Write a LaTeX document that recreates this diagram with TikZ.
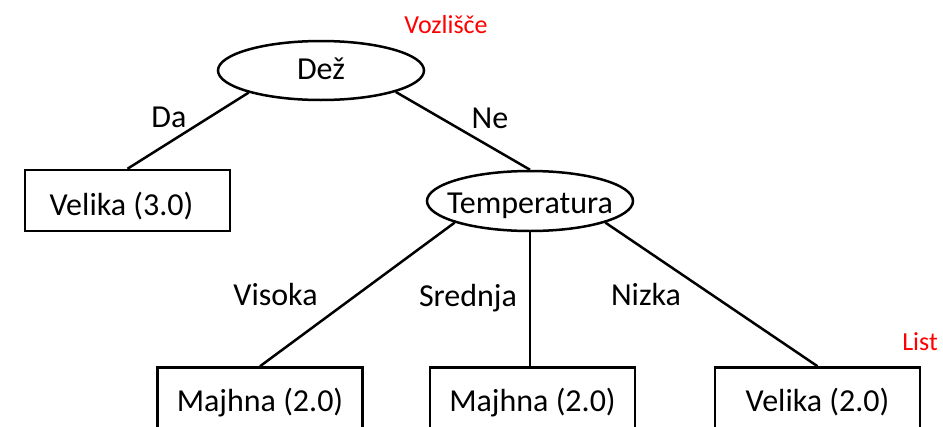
\documentclass[tikz,border=0pt]{standalone}
\usepackage{fontspec}
\setmainfont{Carlito}
\usetikzlibrary{shapes.geometric}
\begin{document}
\begin{tikzpicture}[x=1pt,y=-1pt,
  every node/.style={font=\fontsize{32}{38}\selectfont},
  decision/.style={ellipse, draw, line width=2.5pt, inner sep=0pt,
    minimum width=206pt, minimum height=60pt},
  leafbox/.style={rectangle, draw, line width=2.5pt, inner sep=0pt,
    minimum width=205pt, minimum height=62pt, text height=27pt, text depth=2pt},
  edge/.style={line width=2.5pt},
  branch/.style={anchor=base},
  note/.style={anchor=base, text=red, font=\fontsize{26}{31}\selectfont}]
  \useasboundingbox (0,0) rectangle (943,426);

  % decision nodes
  \node[decision, minimum height=59pt, text height=22pt, text depth=5pt] (dez) at (321,70.5) {\makebox[0pt]{Dež}};
  \node[decision, text height=26pt, text depth=2pt] (temp) at (530,201) {\makebox[0pt]{Temperatura}};

  % leaves
  \node[leafbox, minimum height=61pt, text height=31pt] (v3) at (127.5,200.5) {\makebox[0pt]{\kern-12pt Velika (3.0)}};
  \node[leafbox] (m1) at (260,398.5) {Majhna (2.0)};
  \node[leafbox] (m2) at (532.5,398.5) {Majhna (2.0)};
  \node[leafbox] (v2) at (817.5,398.5) {Velika (2.0)};

  % branches
  \draw[edge] (dez.197) -- (v3.north);
  \draw[edge] (dez.-16) -- (temp.north);
  \draw[edge] (temp.196) -- (m1.north);
  \draw[edge] (temp.south) -- (temp.south |- m2.north);
  \draw[edge] (temp.-16) -- (v2.north);

  % branch labels
  \node[branch] (lda) at (169,127) {Da};
  \node[branch] (lne) at (490,128) {Ne};
  \node[branch] (lvis) at (275.5,305) {Visoka};
  \node[branch] (lsre) at (468,306) {Srednja};
  \node[branch] (lniz) at (646,305) {Nizka};

  % annotations
  \node[note] (nvoz) at (446,33) {Vozlišče};
  \node[note] (nlist) at (920,350) {List};
\end{tikzpicture}
\end{document}
